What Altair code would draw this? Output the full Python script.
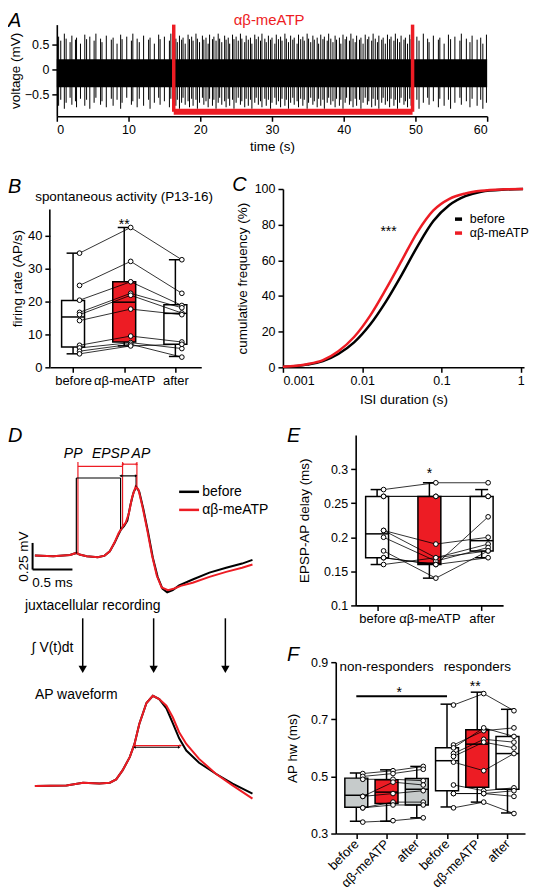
import altair as alt
import pandas as pd

FONT = "Liberation Sans"
RED = "#ed1c24"
GREY = "#c6cbcb"
CONDITIONS = ["before", "αβ-meATP", "after"]

# ---------------- Panel A: extracellular recording ----------------
a_spikes_before = [0.25, 0.55, 1.05, 1.3, 1.85, 2.1, 2.6, 2.75, 3.3, 3.9, 4.15, 4.6, 5.2, 5.45,
                   6.1, 6.3, 6.9, 7.6, 7.85, 8.4, 8.9, 9.1, 9.75, 10.4, 10.6, 11.2, 11.5, 12.1,
                   12.8, 13.0, 13.6, 14.2, 14.4, 15.0, 15.7, 15.9]
a_spikes_drug = [16.6, 16.8, 17.1, 17.4, 17.6, 17.9, 18.3, 18.5, 18.8, 19.0, 19.4, 19.6, 19.9, 20.3,
                 20.5, 20.8, 21.1, 21.3, 21.7, 21.9, 22.2, 22.5, 22.7, 23.0, 23.4, 23.6, 23.9, 24.1,
                 24.5, 24.7, 25.0, 25.3, 25.6, 25.8, 26.2, 26.4, 26.7, 27.0, 27.2, 27.6, 27.8, 28.1,
                 28.4, 28.6, 29.0, 29.2, 29.5, 29.8, 30.0, 30.4, 30.6, 30.9, 31.2, 31.4, 31.8, 32.0,
                 32.3, 32.6, 32.9, 33.1, 33.5, 33.7, 34.0, 34.3, 34.5, 34.9, 35.1, 35.4, 35.7, 35.9,
                 36.3, 36.5, 36.8, 37.1, 37.3, 37.7, 37.9, 38.2, 38.5, 38.8, 39.0, 39.4, 39.6, 39.9,
                 40.2, 40.4, 40.8, 41.0, 41.3, 41.6, 41.8, 42.2, 42.4, 42.7, 43.0, 43.3, 43.5, 43.9,
                 44.1, 44.4, 44.7, 44.9, 45.3, 45.5, 45.8, 46.1, 46.4, 46.6, 47.0, 47.2, 47.5, 47.8,
                 48.0, 48.4, 48.6, 48.9, 49.2, 49.4]
a_spikes_after = [50.2, 50.5, 51.1, 51.7, 51.9, 52.5, 53.2, 53.4, 54.0, 54.6, 54.9, 55.5, 56.2,
                  56.4, 57.1, 57.6, 57.9, 58.6, 59.1, 59.4, 59.9]
a_spike_peaks = [0.66, 0.58, 0.72, 0.62, 0.55, 0.68, 0.60, 0.64, 0.52, 0.70, 0.61]
a_spike_troughs = [-0.72, -0.60, -0.78, -0.66, -0.56, -0.70, -0.63, -0.75, -0.58]
a_noise_band = [-0.35, 0.21]
a_drug_on_off = [16.3, 49.6]
a_drug_bar = -0.84
a_xticks = [0, 10, 20, 30, 40, 50, 60]
a_yticks = [-0.5, 0, 0.5]

# ---------------- Panel B: firing rate ----------------
b_before = [34.7, 24.9, 20.4, 16.7, 16.0, 14.2, 6.7, 5.9, 4.9, 4.1]
b_drug = [42.5, 32.2, 26.0, 22.5, 21.9, 17.7, 9.5, 7.5, 7.0, 6.5]
b_after = [32.7, 22.5, 18.8, 18.1, 16.5, 16.0, 7.7, 5.7, 3.1, 7.0]
b_lo = [4.1, 6.5, 3.3]
b_q1 = [6.2, 7.7, 7.0]
b_med = [15.3, 19.8, 16.4]
b_q3 = [20.3, 26.0, 19.0]
b_hi = [34.7, 42.5, 32.7]
b_yticks = [0, 10, 20, 30, 40]
b_axis_top = 48.0

# ---------------- Panel C: ISI cumulative distribution ----------------
c_isi = [0.001, 0.002, 0.0032, 0.005, 0.0079, 0.0126, 0.02, 0.0316, 0.05, 0.079, 0.126, 0.2,
         0.316, 0.63, 1.07]
c_before = [0.3, 1.5, 3.5, 7.5, 14, 24, 37, 52, 68, 82, 91, 96, 98.5, 99.7, 100]
c_drug = [0.3, 1.7, 4, 9, 17, 29, 44, 60, 76, 88, 94.5, 97.5, 99, 99.8, 100]

# ---------------- Panel D: juxtacellular waveform ----------------
d_t_before = [0, 0.23, 0.44, 0.52, 0.56, 0.65, 0.79, 0.875, 0.94, 1.0, 1.05, 1.08, 1.12, 1.16,
              1.2, 1.24, 1.275, 1.31, 1.36, 1.42, 1.48, 1.54, 1.6, 1.66, 1.73, 1.81, 1.98, 2.19,
              2.4, 2.6, 2.73]
d_v_before = [0, -0.006, 0.006, 0.025, 0.01, -0.006, -0.016, 0, 0.04, 0.12, 0.2, 0.245, 0.28,
              0.33, 0.48, 0.6, 0.645, 0.6, 0.44, 0.22, -0.02, -0.2, -0.31, -0.345, -0.325, -0.28,
              -0.225, -0.16, -0.115, -0.075, -0.04]
d_t_drug = [0, 0.23, 0.44, 0.52, 0.56, 0.65, 0.79, 0.875, 0.94, 1.0, 1.05, 1.1, 1.14, 1.18,
            1.22, 1.265, 1.3, 1.35, 1.41, 1.47, 1.53, 1.59, 1.67, 1.75, 1.83, 1.98, 2.19, 2.4,
            2.6, 2.73]
d_v_drug = [0, -0.006, 0.006, 0.025, 0.01, -0.006, -0.016, 0, 0.04, 0.125, 0.21, 0.27, 0.31,
            0.4, 0.55, 0.65, 0.62, 0.46, 0.24, 0.0, -0.19, -0.3, -0.325, -0.31, -0.285, -0.256,
            -0.2, -0.153, -0.115, -0.084]
w_t = [0, 0.396, 0.604, 0.81, 0.94, 1.02, 1.10, 1.19, 1.25, 1.31, 1.40, 1.48, 1.56, 1.65, 1.73,
       1.81, 1.90, 2.06, 2.27, 2.48, 2.73]
w_before = [-0.007, 0, 0.03, 0.02, 0.03, 0.067, 0.167, 0.315, 0.463, 0.685, 0.919, 1.0, 0.963,
            0.86, 0.696, 0.526, 0.389, 0.252, 0.13, 0.019, -0.093]
w_drug = [-0.007, 0, 0.03, 0.02, 0.03, 0.067, 0.167, 0.315, 0.463, 0.685, 0.919, 1.0, 0.963,
          0.889, 0.76, 0.593, 0.463, 0.296, 0.13, 0.0, -0.148]
w_base = -2.162
w_gain = 0.843
d_mark_t_drug = [0.54, 1.10, 1.28]
d_mark_t_before = [0.52, 1.075, 1.27]

# ---------------- Panel E: EPSP-AP delay ----------------
e_before = [0.27, 0.26, 0.26, 0.21, 0.21, 0.20, 0.18, 0.17, 0.17, 0.16]
e_drug = [0.28, 0.26, 0.26, 0.19, 0.17, 0.165, 0.14, 0.16, 0.16, 0.17]
e_after = [0.28, 0.26, 0.26, 0.20, 0.19, 0.185, 0.18, 0.23, 0.17, 0.18]
e_lo = [0.16, 0.14, 0.17]
e_q1 = [0.17, 0.16, 0.18]
e_med = [0.205, 0.162, 0.195]
e_q3 = [0.26, 0.26, 0.26]
e_hi = [0.27, 0.28, 0.27]
e_yticks = [0.1, 0.15, 0.2, 0.25, 0.3]

# ---------------- Panel F: AP half width ----------------
f_nr_before = [0.51, 0.50, 0.49, 0.43, 0.43, 0.39, 0.39, 0.34]
f_nr_drug = [0.52, 0.51, 0.49, 0.48, 0.44, 0.41, 0.40, 0.345]
f_nr_after = [0.535, 0.525, 0.485, 0.47, 0.45, 0.41, 0.40, 0.355]
f_r_before = [0.75, 0.61, 0.60, 0.58, 0.57, 0.55, 0.47, 0.44, 0.44, 0.39]
f_r_drug = [0.79, 0.66, 0.67, 0.63, 0.62, 0.52, 0.45, 0.44, 0.44, 0.41]
f_r_after = [0.73, 0.67, 0.64, 0.62, 0.60, 0.58, 0.46, 0.45, 0.43, 0.37]
f_lo = [0.343, 0.343, 0.355, 0.393, 0.41, 0.372]
f_q1 = [0.392, 0.405, 0.40, 0.45, 0.462, 0.455]
f_med = [0.434, 0.445, 0.455, 0.555, 0.613, 0.58]
f_q3 = [0.494, 0.488, 0.493, 0.60, 0.663, 0.64]
f_hi = [0.512, 0.523, 0.535, 0.753, 0.795, 0.735]
f_yticks = [0.3, 0.5, 0.7, 0.9]


def qx(dom, axis, log=False):
    sc = alt.Scale(domain=dom, nice=False, zero=False, type="log") if log else \
        alt.Scale(domain=dom, nice=False, zero=False)
    return lambda f: alt.X(f"{f}:Q", scale=sc, axis=axis)


def qy(dom, axis):
    sc = alt.Scale(domain=dom, nice=False, zero=False)
    return lambda f: alt.Y(f"{f}:Q", scale=sc, axis=axis)


def letter(ch, dx, dy):
    return alt.Chart(pd.DataFrame({"l": [ch]})).mark_text(
        font=FONT, fontSize=20, fontStyle="italic", align="left", baseline="alphabetic",
        color="black").encode(x=alt.value(dx), y=alt.value(dy), text="l:N")


def note(X, Y, x, y, txt, size=14, color="black", align="center", style="normal",
         baseline="alphabetic"):
    return alt.Chart(pd.DataFrame({"x": [x], "y": [y], "t": [txt]})).mark_text(
        font=FONT, fontSize=size, color=color, align=align, fontStyle=style,
        baseline=baseline).encode(x=X("x"), y=Y("y"), text="t:N")


def pin(h, top, bottom):
    # invisible rule fixing the vertical extent of a row for the concat layout
    return alt.Chart(pd.DataFrame({"p": [0]})).mark_rule(opacity=0, strokeWidth=1).encode(
        x=alt.value(1), y=alt.value(-top), y2=alt.value(h + bottom))


def spacer(w, h, top, bottom):
    return pin(h, top, bottom).properties(width=w, height=h)


def box_layers(X, Y, lo, q1, med, q3, hi, fills, groups, px_unit):
    hw, cap, off = 11.5 / px_unit, 6.5 / px_unit, 6.5 / px_unit
    pos = list(range(1, len(lo) + 1))
    bx = pd.DataFrame({"pos": pos, "lo": lo, "q1": q1, "med": med, "q3": q3, "hi": hi,
                       "fill": fills})
    bx["x0"] = bx["pos"] - hw
    bx["x1"] = bx["pos"] + hw
    bx["c0"] = bx["pos"] - cap
    bx["c1"] = bx["pos"] + cap
    rows = []
    for gi, (start, series) in enumerate(groups):
        for ci in range(len(series[0])):
            for k, s in enumerate(series):
                rows.append({"cell": f"{gi}-{ci}", "pos": start + k, "v": s[ci]})
    pts = pd.DataFrame(rows)
    pts["px"] = pts["pos"] + off
    base = alt.Chart(bx)
    rule = dict(color="black", strokeWidth=1.5)
    return [
        base.mark_rule(**rule).encode(x=X("pos"), y=Y("lo"), y2="hi"),
        base.mark_rule(**rule).encode(x=X("c0"), x2="c1", y=Y("hi")),
        base.mark_rule(**rule).encode(x=X("c0"), x2="c1", y=Y("lo")),
        base.mark_rect(stroke="black", strokeWidth=1.5).encode(
            x=X("x0"), x2="x1", y=Y("q1"), y2="q3", fill=alt.Fill("fill:N", scale=None)),
        base.mark_rule(**rule).encode(x=X("x0"), x2="x1", y=Y("med")),
        alt.Chart(pts).mark_line(color="black", strokeWidth=0.8).encode(
            x=X("px"), y=Y("v"), detail="cell:N", order="pos:Q"),
        alt.Chart(pts).mark_point(shape="circle", filled=True, fill="white", stroke="black",
                                  strokeWidth=1, size=22, opacity=1).encode(x=X("px"), y=Y("v")),
    ]


def cat_expr(labels):
    arr = ",".join(f"'{l}'" for l in labels)
    return f"[{arr}][datum.value - 1]"


# ================= Panel A =================
AX = qx([0, 60], alt.Axis(values=a_xticks, title="time (s)", titlePadding=4, labelPadding=2))
AY = qy([-0.93, 0.9], alt.Axis(values=a_yticks, title="voltage (mV)", format="~g",
                               titlePadding=2, labelPadding=3))
all_spikes = a_spikes_before + a_spikes_drug + a_spikes_after
spk = pd.DataFrame({
    "t": all_spikes,
    "hi": [a_spike_peaks[i % len(a_spike_peaks)] for i in range(len(all_spikes))],
    "lo": [a_spike_troughs[i % len(a_spike_troughs)] for i in range(len(all_spikes))],
})
noise = pd.DataFrame({"t0": [0], "t1": [60], "lo": [a_noise_band[0]], "hi": [a_noise_band[1]]})
drug_v = pd.DataFrame({"t": a_drug_on_off, "lo": [a_drug_bar] * 2, "hi": [0.9, 0.9]})
drug_h = pd.DataFrame({"t0": [a_drug_on_off[0]], "t1": [a_drug_on_off[1]], "y": [a_drug_bar]})

panel_a = alt.layer(
    alt.Chart(noise).mark_rect(color="black").encode(x=AX("t0"), x2="t1", y=AY("lo"), y2="hi"),
    alt.Chart(spk).mark_rule(color="black", strokeWidth=1).encode(x=AX("t"), y=AY("lo"), y2="hi"),
    alt.Chart(drug_v).mark_rule(color=RED, strokeWidth=3.5).encode(x=AX("t"), y=AY("lo"), y2="hi"),
    alt.Chart(drug_h).mark_rule(color=RED, strokeWidth=6).encode(x=AX("t0"), x2="t1", y=AY("y")),
    note(AX, AY, 29.6, 0.89, "αβ-meATP", size=15, color=RED),
    letter("A", -49, 2),
).properties(width=432, height=92)

# ================= Panel B =================
BX = qx([0.546, 3.506], alt.Axis(values=[1, 2, 3], labelExpr=cat_expr(CONDITIONS), title=None,
                                  labelFontSize=13, labelPadding=2))
BY = qy([0, 54.2], alt.Axis(values=b_yticks, title="firing rate (AP/s)", domain=False,
                            titlePadding=3, labelFontSize=13))
b_axis = pd.DataFrame({"y0": [0], "y1": [b_axis_top]})
panel_b = alt.layer(
    alt.Chart(b_axis).mark_rule(color="black", strokeWidth=1.6).encode(
        x=alt.value(0), y=BY("y0"), y2="y1"),
    *box_layers(BX, BY, b_lo, b_q1, b_med, b_q3, b_hi, ["white", RED, "white"],
                [(1, [b_before, b_drug, b_after])], 51.35),
    note(BX, BY, 2, 42.0, "**"),
    alt.Chart(pd.DataFrame({"t": ["spontaneous activity (P13-16)"]})).mark_text(
        font=FONT, fontSize=13.5, align="center", baseline="alphabetic").encode(
        x=alt.value(74.5), y=alt.value(12), text="t:N"),
    letter("B", -42, 4),
).properties(width=152, height=179)

# ================= Panel C =================
CX = qx([0.001, 1.1], alt.Axis(values=[0.001, 0.01, 0.1, 1], format="~g",
                                title="ISI duration (s)", titlePadding=6, labelPadding=2), log=True)
CY = qy([0, 100], alt.Axis(values=[0, 20, 40, 60, 80, 100], title="cumulative frequency (%)",
                           titlePadding=5))
c_df = pd.DataFrame({
    "isi": c_isi + c_isi,
    "cum": c_before + c_drug,
    "cond": ["before"] * len(c_isi) + ["αβ-meATP"] * len(c_isi),
})
panel_c = alt.layer(
    alt.Chart(c_df).mark_line(strokeWidth=2.5, interpolate="monotone").encode(
        x=CX("isi"), y=CY("cum"),
        color=alt.Color("cond:N", scale=alt.Scale(domain=["before", "αβ-meATP"],
                                                  range=["black", RED]),
                        legend=alt.Legend(orient="none", legendX=170, legendY=24, title=None,
                                          symbolType="stroke", symbolSize=50,
                                          symbolStrokeWidth=3.5, labelFontSize=12.5,
                                          labelFont=FONT, labelOffset=5, rowPadding=-1,
                                          padding=0, labelColor="black"))),
    note(CX, CY, 0.0215, 73.4, "***"),
    letter("C", -51, 2),
).properties(width=242, height=179)

# ================= Panel D =================
D_W, D_H = 262, 375
DX = qx([-0.3375, -0.3375 + D_W / 80.0], None)
DY = qy([1.134 - D_H / 106.7, 1.134], None)
traces = pd.DataFrame({
    "t": d_t_before + d_t_drug + w_t + w_t,
    "v": d_v_before + d_v_drug + [w_base + w_gain * a for a in w_before]
         + [w_base + w_gain * a for a in w_drug],
    "id": ["jb"] * len(d_t_before) + ["jd"] * len(d_t_drug) + ["wb"] * len(w_t) + ["wd"] * len(w_t),
    "col": ["black"] * len(d_t_before) + [RED] * len(d_t_drug) + ["black"] * len(w_t)
           + [RED] * len(w_t),
})
verts = pd.DataFrame({
    "x": [d_mark_t_before[0], d_mark_t_before[1], d_mark_t_before[2],
          d_mark_t_drug[0], d_mark_t_drug[1], d_mark_t_drug[2],
          -0.029, 0.6, 1.49, 2.39],
    "y": [0.02, 0.25, 0.645, 0.025, 0.27, 0.65, -0.131, -0.59, -0.59, -0.59],
    "y2": [0.73, 0.73, 0.76, 0.88, 0.88, 0.88, 0.119, -1.06, -1.06, -1.06],
    "col": ["black"] * 3 + [RED] * 3 + ["black"] * 4,
    "w": [1.2] * 6 + [2, 1.5, 1.5, 1.5],
})
horiz = pd.DataFrame({
    "x": [d_mark_t_before[0], d_mark_t_before[1], d_mark_t_drug[0], d_mark_t_drug[1],
          -0.029, 1.81, 1.81, 1.25, 1.25],
    "x2": [d_mark_t_before[1], d_mark_t_before[2], d_mark_t_drug[1], d_mark_t_drug[2],
           0.471, 2.06, 2.06, 1.81, 1.83],
    "y": [0.73, 0.75, 0.84, 0.86, -0.131, 0.60, 0.43, w_base + w_gain * 0.426,
          w_base + w_gain * 0.444],
    "col": ["black", "black", RED, RED, "black", "black", RED, "black", RED],
    "w": [1.2, 1.2, 1.2, 1.2, 2, 2.5, 2.5, 1.2, 1.2],
})
heads = pd.DataFrame({
    "x": [1.075, 1.27, 1.10, 1.28, 1.25, 1.81, 1.25, 1.83, 0.6, 1.49, 2.39],
    "y": [0.75, 0.75, 0.86, 0.86, w_base + w_gain * 0.426, w_base + w_gain * 0.426,
          w_base + w_gain * 0.444, w_base + w_gain * 0.444, -1.07, -1.07, -1.07],
    "shape": ["triangle-left", "triangle-right"] * 4 + ["triangle-down"] * 3,
    "col": ["black", "black", RED, RED, "black", "black", RED, RED, "black", "black", "black"],
    "s": [8] * 8 + [70] * 3,
})
panel_d = alt.layer(
    pin(D_H, 24, 0),
    alt.Chart(traces).mark_line(strokeWidth=2).encode(
        x=DX("t"), y=DY("v"), detail="id:N", color=alt.Color("col:N", scale=None)),
    alt.Chart(verts).mark_rule().encode(
        x=DX("x"), y=DY("y"), y2="y2", color=alt.Color("col:N", scale=None),
        strokeWidth=alt.StrokeWidth("w:Q", scale=None)),
    alt.Chart(horiz).mark_rule().encode(
        x=DX("x"), x2="x2", y=DY("y"), color=alt.Color("col:N", scale=None),
        strokeWidth=alt.StrokeWidth("w:Q", scale=None)),
    alt.Chart(heads).mark_point(filled=True, opacity=1).encode(
        x=DX("x"), y=DY("y"), shape=alt.Shape("shape:N", scale=None),
        color=alt.Color("col:N", scale=None), size=alt.Size("s:Q", scale=None)),
    note(DX, DY, 0.48, 0.92, "PP", style="italic"),
    note(DX, DY, 0.95, 0.92, "EPSP", style="italic"),
    note(DX, DY, 1.33, 0.92, "AP", style="italic"),
    note(DX, DY, 2.1, 0.60, "before", align="left", baseline="middle"),
    note(DX, DY, 2.1, 0.43, "αβ-meATP", align="left", baseline="middle"),
    note(DX, DY, 0.22, -0.30, "0.5 ms", size=13.5),
    alt.Chart(pd.DataFrame({"x": [-0.0875], "y": [-0.01], "t": ["0.25 mV"]})).mark_text(
        font=FONT, fontSize=13.5, angle=270, align="center", baseline="alphabetic").encode(
        x=DX("x"), y=DY("y"), text="t:N"),
    note(DX, DY, 0.725, -0.515, "juxtacellular recording"),
    note(DX, DY, -0.04, -0.906, "∫ V(t)dt", align="left"),
    note(DX, DY, 0.0, -1.35, "AP waveform", align="left"),
    letter("D", 0, 7),
).properties(width=D_W, height=D_H)

# ================= Panel E =================
EX = qx([0.59, 3.41], alt.Axis(values=[1, 2, 3], labelExpr=cat_expr(CONDITIONS), title=None,
                                labelFontSize=13, labelPadding=2))
EY = qy([0.1, 0.35], alt.Axis(values=e_yticks, format="~g", title="EPSP-AP delay (ms)",
                              titlePadding=12))
panel_e = alt.layer(
    *box_layers(EX, EY, e_lo, e_q1, e_med, e_q3, e_hi, ["white", RED, "white"],
                [(1, [e_before, e_drug, e_after])], 52.5),
    note(EX, EY, 2, 0.287, "*"),
    letter("E", -69, 7),
).properties(width=148, height=171)

# ================= Panel F =================
F_W = 190
FX = qx([0.32, 6.58], alt.Axis(values=[1, 2, 3, 4, 5, 6], labelExpr=cat_expr(CONDITIONS * 2),
                                title=None, labelAngle=315, labelAlign="right",
                                labelBaseline="middle", labelFontSize=13, labelPadding=3,
                                labelOverlap=False))
FY = qy([0.3, 0.9], alt.Axis(values=f_yticks, format=".1f", title="AP hw (ms)", titlePadding=11))
f_bar = pd.DataFrame({"x0": [1], "x1": [4], "y": [0.781]})
panel_f = alt.layer(
    *box_layers(FX, FY, f_lo, f_q1, f_med, f_q3, f_hi, [GREY, RED, GREY, "white", RED, "white"],
                [(1, [f_nr_before, f_nr_drug, f_nr_after]), (4, [f_r_before, f_r_drug, f_r_after])],
                F_W / (6.58 - 0.32)),
    alt.Chart(f_bar).mark_rule(color="black", strokeWidth=2).encode(x=FX("x0"), x2="x1", y=FY("y")),
    note(FX, FY, 2.42, 0.777, "*"),
    note(FX, FY, 4.93, 0.799, "**"),
    note(FX, FY, 2.0, 0.869, "non-responders", size=13.5),
    note(FX, FY, 5.0, 0.869, "responders", size=13.5),
    letter("F", -49, -1),
).properties(width=F_W, height=172)


def indep(c):
    return c.resolve_scale(color="independent").resolve_legend(color="independent")


# ================= layout =================
row_a = alt.hconcat(spacer(49, 92, 15, 40), panel_a, spacing=0, bounds="flush")
row_bc = indep(alt.hconcat(spacer(42, 179, 33, 44), panel_b, spacer(82, 179, 33, 44), panel_c,
                           spacing=0, bounds="flush"))
row_e = alt.hconcat(spacer(69, 171, 24, 25), panel_e, spacing=0, bounds="flush")
row_f = alt.hconcat(spacer(49, 172, 20, 10), panel_f, spacing=0, bounds="flush")
col_ef = alt.vconcat(row_e, row_f, spacing=12)
row_bottom = alt.hconcat(panel_d, col_ef, spacing=18, bounds="flush")
chart = indep(alt.vconcat(row_a, row_bc, row_bottom, spacing=0)).properties(
    padding=0, background="white"
).configure_view(stroke=None).configure_axis(
    labelFont=FONT, titleFont=FONT, labelFontSize=12.5, titleFontSize=13.5,
    titleFontWeight="normal", labelColor="black", titleColor="black", domainColor="black",
    tickColor="black", domainWidth=1.6, tickWidth=1.5, tickSize=5, grid=False, labelPadding=3
).configure_text(font=FONT)

chart.save("out.html", embed_options={"renderer": "svg", "actions": False})
